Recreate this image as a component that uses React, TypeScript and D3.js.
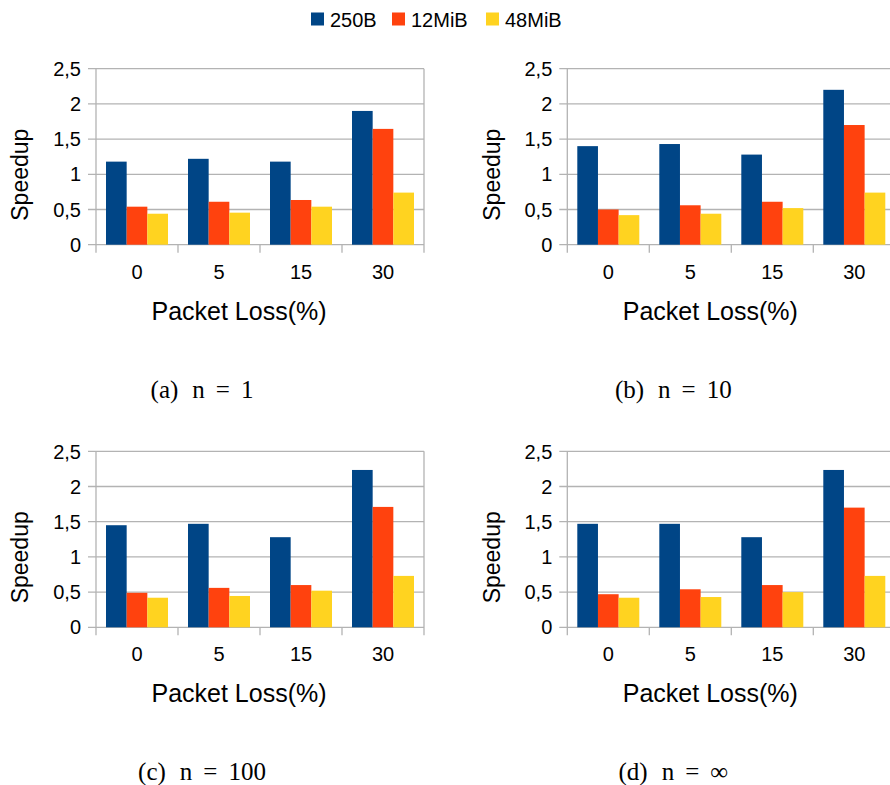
import React, { useEffect, useRef } from "react";
import * as d3 from "d3";

const categories = ["0", "5", "15", "30"];
const seriesNames = ["250B", "12MiB", "48MiB"];
const seriesColors = ["#004586", "#ff420e", "#ffd320"];
const yTicks = [0, 0.5, 1, 1.5, 2, 2.5];

const panelA = [
  [1.18, 1.22, 1.18, 1.9],
  [0.54, 0.61, 0.635, 1.645],
  [0.44, 0.455, 0.54, 0.74],
];
const panelB = [
  [1.4, 1.43, 1.28, 2.2],
  [0.5, 0.56, 0.61, 1.7],
  [0.42, 0.44, 0.52, 0.74],
];
const panelC = [
  [1.45, 1.47, 1.28, 2.235],
  [0.49, 0.56, 0.6, 1.71],
  [0.42, 0.445, 0.52, 0.73],
];
const panelD = [
  [1.47, 1.47, 1.28, 2.235],
  [0.47, 0.54, 0.6, 1.7],
  [0.42, 0.43, 0.5, 0.73],
];

const captions = [
  { label: "(a)", n: "1" },
  { label: "(b)", n: "10" },
  { label: "(c)", n: "100" },
  { label: "(d)", n: "\u221e" },
];

const panels = [panelA, panelB, panelC, panelD];

const W = 890;
const H = 785;
const SANS = "'Liberation Sans', Arial, sans-serif";
const SERIF = "'Liberation Serif', 'DejaVu Serif', serif";
const GRID = "#b3b3b3";

export default function App() {
  const ref = useRef<SVGSVGElement>(null);

  useEffect(() => {
    const svg = d3.select(ref.current);
    svg.selectAll("*").remove();
    svg.append("rect").attr("width", W).attr("height", H).attr("fill", "#fff");

    // legend
    const legendX = [311, 392, 486];
    const leg = svg.append("g");
    seriesNames.forEach((name, i) => {
      leg.append("rect").attr("x", legendX[i]).attr("y", 12.5).attr("width", 13).attr("height", 13).attr("fill", seriesColors[i]);
      leg.append("text").attr("x", legendX[i] + 19).attr("y", 26.5)
        .attr("font-family", SANS).attr("font-size", 20).attr("fill", "#000").text(name);
    });

    const origins = [
      { x: 96, y0: 244.7 },
      { x: 567.3, y0: 244.7 },
      { x: 96, y0: 627.3 },
      { x: 567.3, y0: 627.3 },
    ];
    const plotW = 328;
    const plotH = 176;

    panels.forEach((data, pi) => {
      const o = origins[pi];
      const g = svg.append("g").attr("transform", `translate(${o.x},${o.y0 - plotH})`);
      const x = d3.scaleBand<string>().domain(categories).range([0, plotW]).padding(0);
      const bw = x.bandwidth();
      const xs = d3.scaleBand<string>().domain(seriesNames).range([10, bw - 10]).padding(0);
      const y = d3.scaleLinear().domain([0, 2.5]).range([plotH, 0]);

      // gridlines
      yTicks.forEach((t) => {
        g.append("line").attr("x1", -8).attr("x2", plotW).attr("y1", y(t)).attr("y2", y(t))
          .attr("stroke", GRID).attr("stroke-width", 1.3);
        g.append("text").attr("x", -15).attr("y", y(t)).attr("dy", "0.36em")
          .attr("text-anchor", "end").attr("font-family", SANS).attr("font-size", 20)
          .attr("fill", "#000").text(String(t).replace(".", ","));
      });
      // y axis
      g.append("line").attr("x1", 0).attr("x2", 0).attr("y1", 0).attr("y2", plotH + 8)
        .attr("stroke", GRID).attr("stroke-width", 1.3);
      // category boundary ticks (last one is the right border)
      categories.forEach((c, i) => {
        const bx = (x(c) as number) + bw;
        g.append("line").attr("x1", bx).attr("x2", bx)
          .attr("y1", i === categories.length - 1 ? 0 : plotH).attr("y2", plotH + 8)
          .attr("stroke", GRID).attr("stroke-width", 1.3);
      });

      // bars
      data.forEach((vals, si) => {
        vals.forEach((v, ci) => {
          const cx = (x(categories[ci]) as number) + (xs(seriesNames[si]) as number);
          g.append("rect").attr("x", cx).attr("y", y(v)).attr("width", xs.bandwidth())
            .attr("height", y(0) - y(v)).attr("fill", seriesColors[si]);
        });
      });

      // x tick labels
      categories.forEach((c) => {
        g.append("text").attr("x", (x(c) as number) + bw / 2).attr("y", plotH + 34)
          .attr("text-anchor", "middle").attr("font-family", SANS).attr("font-size", 20)
          .attr("fill", "#000").text(c);
      });

      // axis titles
      g.append("text").attr("x", 143).attr("y", plotH + 75).attr("text-anchor", "middle")
        .attr("font-family", SANS).attr("font-size", 25).attr("fill", "#000").text("Packet Loss(%)");
      g.append("text").attr("transform", `translate(${-67.8},${plotH / 2 + 18}) rotate(-90)`)
        .attr("text-anchor", "middle").attr("font-family", SANS).attr("font-size", 23)
        .attr("fill", "#000").text("Speedup");

      // caption
      const cap = captions[pi];
      const capCx = o.x + 106;
      const capY = o.y0 + 153;
      const t = svg.append("text").attr("x", capCx).attr("y", capY).attr("text-anchor", "middle")
        .attr("font-family", SERIF).attr("font-size", 25).attr("fill", "#000");
      t.append("tspan").text(cap.label);
      t.append("tspan").attr("dx", 14).text("n");
      t.append("tspan").attr("dx", 11).text("=");
      t.append("tspan").attr("dx", 11).text(cap.n);
    });
  }, []);

  return (
    <svg ref={ref} width={W} height={H}
      style={{ position: "absolute", left: 0, top: 0, display: "block" }} />
  );
}
